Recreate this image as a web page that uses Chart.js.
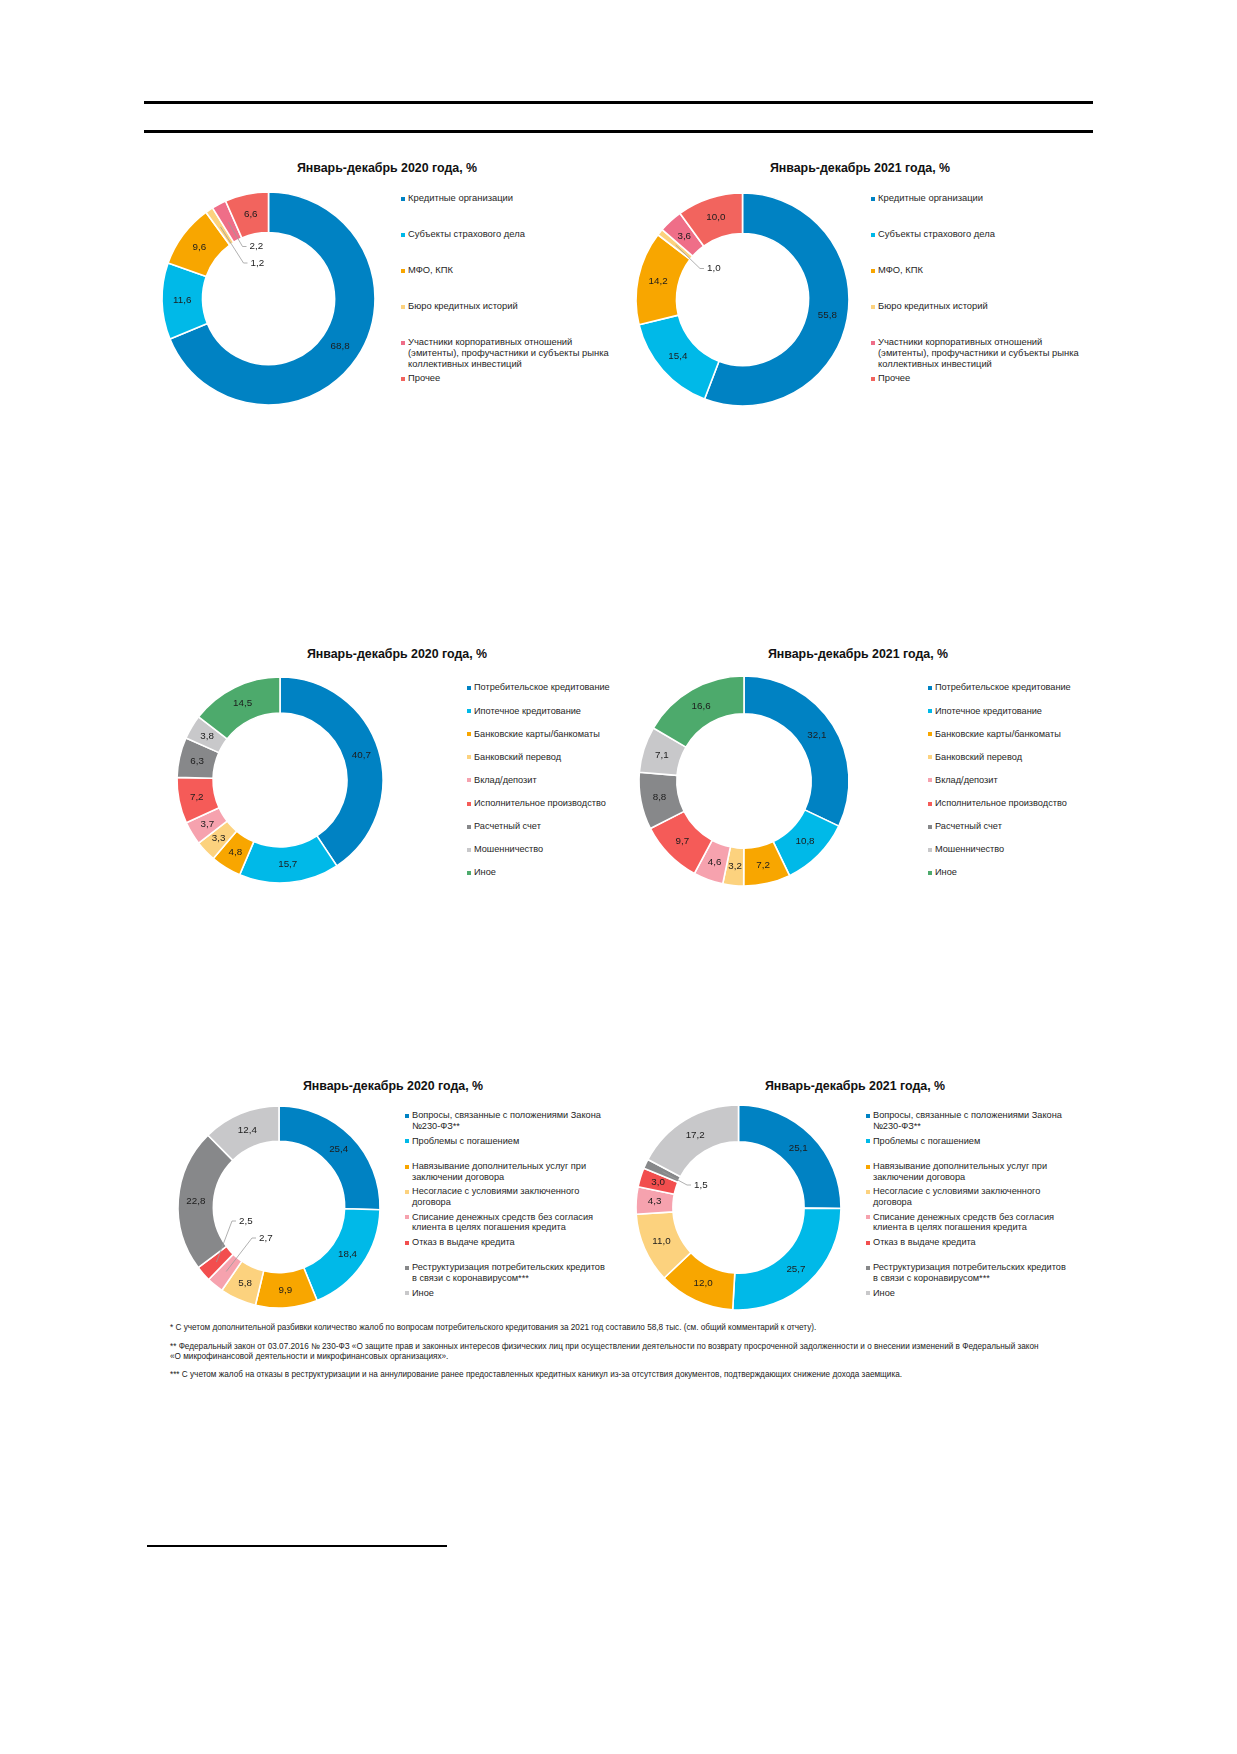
<!DOCTYPE html>
<html lang="ru">
<head>
<meta charset="utf-8">
<title>Жалобы, январь-декабрь 2020 и 2021 года</title>
<script src="https://cdn.jsdelivr.net/npm/chart.js@4.4.1/dist/chart.umd.min.js"></script>
<style>
    html, body { margin: 0; padding: 0; background: #fff; }
    body { width: 1237px; height: 1754px; position: relative; overflow: hidden;
           font-family: "Liberation Sans", Arial, sans-serif; color: #222; }
    .rule { position: absolute; background: #000; }
    .title { position: absolute; font-weight: bold; font-size: 12.4px; white-space: nowrap;
             transform: translate(-50%, -50%); color: #111; }
    .donut { position: absolute; }
    .leg-box { position: absolute; width: 4px; height: 4px; }
    .leg-text { position: absolute; line-height: 10.6px; white-space: pre; color: #262626; }
    .note { position: absolute; left: 170px; font-size: 8.2px; line-height: 9.3px; white-space: pre; color: #222; }
</style>
</head>
<body>
<div class="rule" style="left:144px; top:101px; width:949px; height:2.5px"></div>
<div class="rule" style="left:144px; top:130px; width:949px; height:2.5px"></div>
<div class="rule" style="left:147px; top:1545px; width:300px; height:1.6px"></div>

<div class="note" style="top:1323.4px">* С учетом дополнительной разбивки количество жалоб по вопросам потребительского кредитования за 2021 год составило 58,8 тыс. (см. общий комментарий к отчету).</div>
<div class="note" style="top:1342.4px">** Федеральный закон от 03.07.2016 № 230-ФЗ «О защите прав и законных интересов физических лиц при осуществлении деятельности по возврату просроченной задолженности и о внесении изменений в Федеральный закон
«О микрофинансовой деятельности и микрофинансовых организациях».</div>
<div class="note" style="top:1370.4px">*** С учетом жалоб на отказы в реструктуризации и на аннулирование ранее предоставленных кредитных каникул из-за отсутствия документов, подтверждающих снижение дохода заемщика.</div>

<script>
// --- data ---
const title2020 = "Январь-декабрь 2020 года, %";
const title2021 = "Январь-декабрь 2021 года, %";

// by type of organisation
const orgLabels = [
    "Кредитные организации",
    "Субъекты страхового дела",
    "МФО, КПК",
    "Бюро кредитных историй",
    "Участники корпоративных отношений\n(эмитенты), профучастники и субъекты рынка\nколлективных инвестиций",
    "Прочее"
];
const org2020 = [68.8, 11.6, 9.6, 1.2, 2.2, 6.6];
const org2021 = [55.8, 15.4, 14.2, 1.0, 3.6, 10.0];

// by topic (credit organisations)
const topicLabels = [
    "Потребительское кредитование",
    "Ипотечное кредитование",
    "Банковские карты/банкоматы",
    "Банковский перевод",
    "Вклад/депозит",
    "Исполнительное производство",
    "Расчетный счет",
    "Мошенничество",
    "Иное"
];
const topic2020 = [40.7, 15.7, 4.8, 3.3, 3.7, 7.2, 6.3, 3.8, 14.5];
const topic2021 = [32.1, 10.8, 7.2, 3.2, 4.6, 9.7, 8.8, 7.1, 16.6];

// consumer credit complaints
const creditLabels = [
    "Вопросы, связанные с положениями Закона\n№230-ФЗ**",
    "Проблемы с погашением",
    "Навязывание дополнительных услуг при\nзаключении договора",
    "Несогласие с условиями заключенного\nдоговора",
    "Списание денежных средств без согласия\nклиента в целях погашения кредита",
    "Отказ в выдаче кредита",
    "Реструктуризация потребительских кредитов\nв связи с коронавирусом***",
    "Иное"
];
const credit2020 = [25.4, 18.4, 9.9, 5.8, 2.7, 2.5, 22.8, 12.4];
const credit2021 = [25.1, 25.7, 12.0, 11.0, 4.3, 3.0, 1.5, 17.2];

// --- styles ---
const orgColors = ["#0082c3", "#00b9e8", "#f8a600", "#fcd27e", "#ef6e88", "#f2645e"];
const topicColors = ["#0082c3", "#00b9e8", "#f8a600", "#fcd27e", "#f6a2ae", "#f55b58", "#87888a", "#c8c8ca", "#4daa6c"];
const creditColors = ["#0082c3", "#00b9e8", "#f8a600", "#fcd27e", "#f6a2ae", "#f24e4e", "#87888a", "#c8c8ca"];

function fmt(v) {
    return v.toFixed(1).replace(".", ",");
}

// values on the slices, small ones get a leader line into the hole
const sliceLabels = {
    id: "sliceLabels",
    afterDatasetsDraw(chart, args, opts) {
        const ctx = chart.ctx;
        const meta = chart.getDatasetMeta(0);
        const values = chart.data.datasets[0].data;
        const leaders = opts.leaders || {};
        ctx.save();
        ctx.font = '9.8px "Liberation Sans", Arial, sans-serif';
        ctx.fillStyle = "#1c1c1c";
        ctx.textBaseline = "middle";
        meta.data.forEach(function (arc, i) {
            const p = arc.getCenterPoint();
            const lead = leaders[i];
            if (lead) {
                const ex = arc.x + lead[0];
                const ey = arc.y + lead[1];
                ctx.strokeStyle = "#9c9c9c";
                ctx.lineWidth = 0.8;
                ctx.beginPath();
                ctx.moveTo(p.x, p.y);
                ctx.lineTo(ex, ey);
                ctx.lineTo(ex + 4, ey);
                ctx.stroke();
                ctx.textAlign = "left";
                ctx.fillText(fmt(values[i]), ex + 7, ey);
            } else {
                ctx.textAlign = "center";
                ctx.fillText(fmt(values[i]), p.x, p.y);
            }
        });
        ctx.restore();
    }
};

function addTitle(text, x, y) {
    const t = document.createElement("div");
    t.className = "title";
    t.style.left = x + "px";
    t.style.top = y + "px";
    t.textContent = text;
    document.body.appendChild(t);
}

function addLegend(chart, p) {
    const colors = chart.data.datasets[0].backgroundColor;
    chart.data.labels.forEach(function (label, i) {
        const y = p.legY + i * p.pitch;
        const box = document.createElement("div");
        box.className = "leg-box";
        box.style.left = (p.legX - 2) + "px";
        box.style.top = (y - 2) + "px";
        box.style.background = colors[i];
        document.body.appendChild(box);

        const txt = document.createElement("div");
        txt.className = "leg-text";
        txt.style.left = (p.legX + p.gap) + "px";
        txt.style.top = (y - 5.6) + "px";
        txt.style.fontSize = p.legFont + "px";
        txt.textContent = label;
        document.body.appendChild(txt);
    });
}

function drawDonut(p) {
    const size = Math.ceil(p.r * 2 + 8);
    const canvas = document.createElement("canvas");
    canvas.className = "donut";
    canvas.width = size;
    canvas.height = size;
    canvas.style.width = size + "px";
    canvas.style.height = size + "px";
    canvas.style.left = (p.cx - size / 2) + "px";
    canvas.style.top = (p.cy - size / 2) + "px";
    document.body.appendChild(canvas);

    const chart = new Chart(canvas, {
        type: "doughnut",
        data: {
            labels: p.labels,
            datasets: [
                {
                    data: p.data,
                    backgroundColor: p.colors,
                    borderColor: "#ffffff",
                    borderWidth: 1.6,
                    hoverOffset: 0,
                },
            ],
        },
        options: {
            responsive: false,
            animation: false,
            radius: p.r,
            cutout: p.cutout,
            layout: { padding: 0 },
            plugins: {
                legend: { display: false },
                tooltip: { enabled: false },
                sliceLabels: { leaders: p.leaders || {} },
            },
        },
        plugins: [sliceLabels],
    });

    addTitle(p.title, p.titleX, p.titleY);
    addLegend(chart, p);
}

const panels = [
    { labels: orgLabels, data: org2020, colors: orgColors, title: title2020,
      cx: 268, cy: 298.5, r: 106.5, cutout: "62%", titleX: 387, titleY: 168,
      legX: 403, legY: 199, pitch: 36, gap: 5, legFont: 9.4, leaders: { 3: [-25, -35.5], 4: [-26, -52] } },
    { labels: orgLabels, data: org2021, colors: orgColors, title: title2021,
      cx: 742.5, cy: 299, r: 106.5, cutout: "62%", titleX: 860, titleY: 168,
      legX: 873, legY: 199, pitch: 36, gap: 5, legFont: 9.4, leaders: { 3: [-42.5, -31] } },
    { labels: topicLabels, data: topic2020, colors: topicColors, title: title2020,
      cx: 280, cy: 780, r: 103, cutout: "65%", titleX: 397, titleY: 654,
      legX: 469, legY: 688, pitch: 23.1, gap: 5, legFont: 9.2 },
    { labels: topicLabels, data: topic2021, colors: topicColors, title: title2021,
      cx: 744, cy: 780.5, r: 105, cutout: "64%", titleX: 858, titleY: 654,
      legX: 930, legY: 688, pitch: 23.1, gap: 5, legFont: 9.2 },
    { labels: creditLabels, data: credit2020, colors: creditColors, title: title2020,
      cx: 279, cy: 1207, r: 101, cutout: "65%", titleX: 393, titleY: 1086,
      legX: 407, legY: 1116, pitch: 25.3, gap: 5, legFont: 9.2, leaders: { 4: [-27, 31], 5: [-47, 14] } },
    { labels: creditLabels, data: credit2021, colors: creditColors, title: title2021,
      cx: 738.5, cy: 1207.5, r: 102.5, cutout: "64%", titleX: 855, titleY: 1086,
      legX: 868, legY: 1116, pitch: 25.3, gap: 5, legFont: 9.2, leaders: { 6: [-51.5, -22.5] } },
];

panels.forEach(drawDonut);
</script>
</body>
</html>
